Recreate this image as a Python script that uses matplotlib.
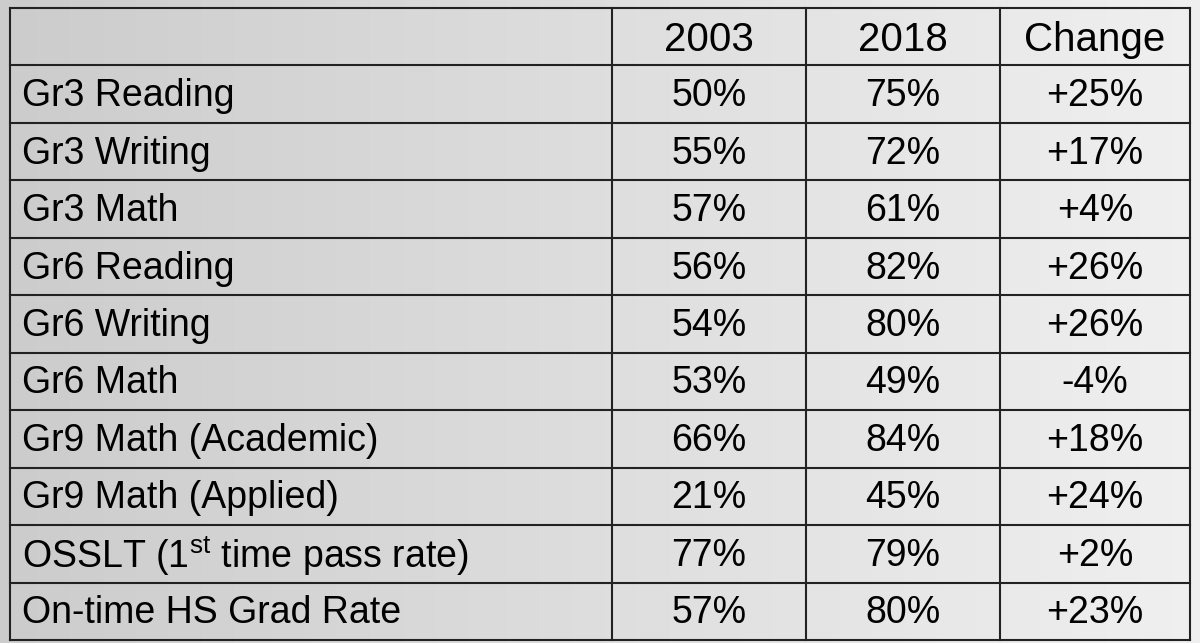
import matplotlib.pyplot as plt
import numpy as np

columns = ["", "2003", "2018", "Change"]
subjects = ["Gr3 Reading", "Gr3 Writing", "Gr3 Math", "Gr6 Reading", "Gr6 Writing",
            "Gr6 Math", "Gr9 Math (Academic)", "Gr9 Math (Applied)",
            "OSSLT (1$^{\\mathrm{st}}$ time pass rate)", "On-time HS Grad Rate"]
y2003 = [50, 55, 57, 56, 54, 53, 66, 21, 77, 57]
y2018 = [75, 72, 61, 82, 80, 49, 84, 45, 79, 80]
change = ["+25%", "+17%", "+4%", "+26%", "+26%", "-4%", "+18%", "+24%", "+2%", "+23%"]

plt.rcParams['font.family'] = ['Liberation Sans', 'DejaVu Sans']
plt.rcParams['mathtext.fontset'] = 'custom'
plt.rcParams['mathtext.rm'] = 'Liberation Sans'
fig = plt.figure(figsize=(12, 6.43), dpi=100)
ax = fig.add_axes([0, 0, 1, 1])
ax.set_xlim(0, 1200)
ax.set_ylim(643, 0)
ax.axis('off')

grad = np.linspace(0.80, 0.94, 256)[None, :]
ax.imshow(np.dstack([grad, grad, grad]), extent=[0, 1200, 643, 0], aspect='auto', zorder=0)

xs = [10, 612, 806, 1000, 1190]
n = len(subjects) + 1
top, bottom = 8, 640
rh = (bottom - top) / n
lw = 1.5
for x in xs:
    ax.plot([x, x], [top, bottom], color='#222222', lw=lw, zorder=2)
for i in range(n + 1):
    y = top + i * rh
    ax.plot([xs[0], xs[-1]], [y, y], color='#222222', lw=lw, zorder=2)

fs = 27
for j, c in enumerate(columns[1:]):
    ax.text((xs[j + 1] + xs[j + 2]) / 2, top + rh / 2 + 3, c, ha='center', va='center', fontsize=fs + 2, zorder=3)
for i, s in enumerate(subjects):
    yc = top + (i + 1.5) * rh + 2
    ax.text(xs[0] + 12, yc, s, ha='left', va='center', fontsize=fs, zorder=3)
    ax.text((xs[1] + xs[2]) / 2, yc, f"{y2003[i]}%", ha='center', va='center', fontsize=fs, zorder=3)
    ax.text((xs[2] + xs[3]) / 2, yc, f"{y2018[i]}%", ha='center', va='center', fontsize=fs, zorder=3)
    ax.text((xs[3] + xs[4]) / 2, yc, change[i], ha='center', va='center', fontsize=fs, zorder=3)

fig.savefig('out.png', dpi=100)
